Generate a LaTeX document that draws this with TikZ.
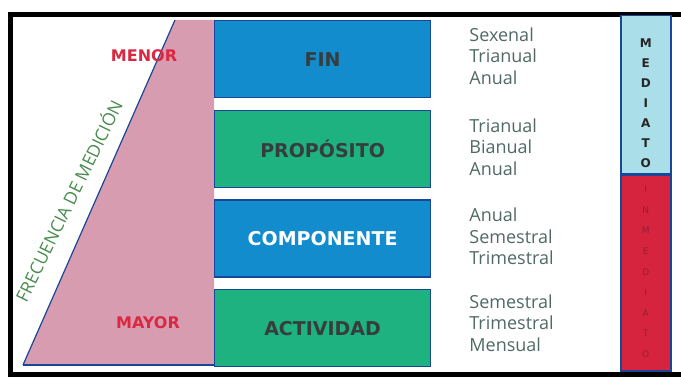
\documentclass[tikz,border=0pt]{standalone}
\usepackage{fontspec}
\setmainfont{Open Sans}
\newfontfamily\rotulo{DejaVu Sans}
\usepackage{tikz}
\usetikzlibrary{positioning}
\definecolor{azul}{RGB}{18,140,205}
\definecolor{verde}{RGB}{30,178,128}
\definecolor{rosa}{RGB}{216,156,176}
\definecolor{bordeazul}{RGB}{25,70,150}
\definecolor{celeste}{RGB}{170,222,232}
\definecolor{rojo}{RGB}{214,36,62}
\definecolor{rojooscuro}{RGB}{150,30,50}
\definecolor{gristexto}{RGB}{55,60,60}
\definecolor{verdegris}{RGB}{80,105,100}
\definecolor{verdetexto}{RGB}{70,140,75}
\definecolor{rojotexto}{RGB}{218,40,66}

\begin{document}
\begin{tikzpicture}[x=1pt,y=-1pt,
    nivel/.style={draw=bordeazul, line width=1.2pt, minimum width=216pt, minimum height=77pt, inner sep=0pt,
      font=\rotulo\bfseries\fontsize{19}{19}\selectfont, text=gristexto},
    periodo/.style={align=left, inner sep=0pt, anchor=west, text=verdegris,
      font=\fontsize{18}{21.5}\selectfont},
    barra/.style={draw=bordeazul, line width=1.5pt, minimum width=50pt, inner sep=0pt},
    extremo/.style={text=rojotexto, font=\rotulo\bfseries\fontsize{16}{16}\selectfont}
  ]
      \useasboundingbox (0,0) rectangle (681,379);
      \draw[line width=5pt] (684,14.5) -- (10.5,14.5) -- (10.5,374.5) -- (684,374.5);
      % triangulo de frecuencia
      \fill[rosa] (23,365) -- (175,20) -- (214,20) -- (214,365) -- cycle;
      \draw[bordeazul, line width=1.2pt] (23,365) -- (175,20);
      \draw[bordeazul, line width=1.2pt] (23,365) -- (214,365);
      \node[extremo] (menor) at (144,56) {MENOR};
      \node[extremo] (mayor) at (148,323) {MAYOR};
      \node[rotate=64, anchor=base, inner sep=0pt, text=verdetexto, font=\fontsize{17.5}{17.5}\selectfont] (frecuencia) at (75,204) {FRECUENCIA DE MEDICIÓN};
      % niveles
      \node[nivel, fill=azul, anchor=north west] (fin) at (214,20) {FIN};
      \node[nivel, fill=verde, below=11.5pt of fin] (proposito) {PROPÓSITO};
      \node[nivel, fill=azul, text=white, below=11.5pt of proposito] (componente) {COMPONENTE};
      \node[nivel, fill=verde, below=11.5pt of componente] (actividad) {ACTIVIDAD};
      % periodos
      \node[periodo, right=38pt of fin, yshift=3pt] (pfin) {Sexenal\\Trianual\\Anual};
      \node[periodo, right=38pt of proposito, yshift=2pt] (pproposito) {Trianual\\Bianual\\Anual};
      \node[periodo, right=38pt of componente, yshift=2pt] (pcomponente) {Anual\\Semestral\\Trimestral};
      \node[periodo, right=38pt of actividad, yshift=5pt] (pactividad) {Semestral\\Trimestral\\Mensual};
      % plazo
      \node[barra, fill=celeste, anchor=north west, minimum height=158pt] (mediato) at (620,15) {};
      \node[barra, fill=rojo, below=0pt of mediato, minimum height=196pt] (inmediato) {};
      \foreach \letra [count=\i] in {M,E,D,I,A,T,O}
        \node[font=\rotulo\bfseries\fontsize{12}{12}\selectfont, text=black!85] at ([yshift={-(\i*20pt+8pt)}] mediato.north) {\letra};
      \foreach \letra [count=\i] in {I,N,M,E,D,I,A,T,O}
        \node[font=\rotulo\fontsize{9}{9}\selectfont, text=rojooscuro] at ([yshift={-(\i*20.6pt-5.6pt)}] inmediato.north) {\letra};
\end{tikzpicture}
\end{document}
